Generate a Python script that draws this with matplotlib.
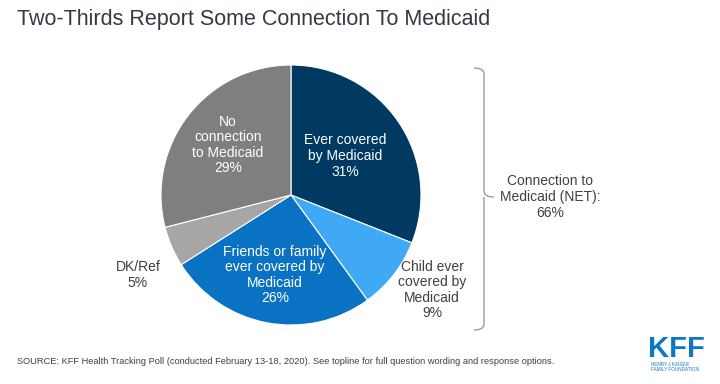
import matplotlib
matplotlib.use('Agg')
from matplotlib import pyplot as plt
from matplotlib.path import Path
from matplotlib.patches import PathPatch

plt.rcParams['font.family'] = ['Liberation Sans', 'DejaVu Sans']

# data
labels = ['Ever covered\nby Medicaid', 'Child ever\ncovered by\nMedicaid', 'Friends or family\never covered by\nMedicaid',
          'DK/Ref', 'No\nconnection\nto Medicaid']
shares = [31, 9, 26, 5, 29]
colors = ['#003A62', '#3FA9F5', '#0A72C2', '#A6A6A6', '#7F7F7F']
net_label = 'Connection to\nMedicaid (NET):'
net_value = 66

W, H = 720, 384
fig = plt.figure(figsize=(W / 100, H / 100), dpi=100)

# pie: centre (291, 195) px, radius 130 px
cx, cy, r = 291, 195, 130
pie_ax = fig.add_axes([(cx - r) / W, (H - cy - r) / H, 2 * r / W, 2 * r / H], zorder=1)
wedges, _ = pie_ax.pie(shares, colors=colors, startangle=90, counterclock=False, radius=1,
                       wedgeprops=dict(edgecolor='white', linewidth=0.8))
pie_ax.set_xlim(-1, 1)
pie_ax.set_ylim(-1, 1)
pie_ax.set_aspect('equal')
pie_ax.axis('off')

# overlay in pixel coords for text, brace and logo
ov = fig.add_axes([0, 0, 1, 1], zorder=5)
ov.set_xlim(0, W)
ov.set_ylim(H, 0)
ov.axis('off')

ov.text(17, 20, 'Two-Thirds Report Some Connection To Medicaid', fontsize=15.5,
        color='#333a45', va='center', ha='left')

lab_pos = [(345, 156, 'white'), (432, 290, '#404040'), (275, 275, 'white'),
           (138, 275, '#404040'), (228, 145, 'white')]
for lab, val, (x, y, c) in zip(labels, shares, lab_pos):
    ov.text(x, y, f'{lab}\n{val}%', ha='center', va='center', fontsize=10,
            color=c, linespacing=1.15, clip_on=False)

# right brace
top, bot, mid = 68, 330, 197
verts = [(474, top), (484, top), (484, top + 6),
         (484, mid - 6), (484, mid), (494, mid),
         (484, mid), (484, mid + 6),
         (484, bot - 6), (484, bot), (474, bot)]
codes = [Path.MOVETO, Path.CURVE3, Path.CURVE3,
         Path.LINETO, Path.CURVE3, Path.CURVE3,
         Path.MOVETO, Path.LINETO,
         Path.LINETO, Path.CURVE3, Path.CURVE3]
ov.add_patch(PathPatch(Path(verts, codes), fill=False, edgecolor='#9a9a9a', linewidth=1.0))
ov.text(550, 197, f'{net_label}\n{net_value}%', ha='center', va='center',
        fontsize=10, color='#404040', linespacing=1.15)

ov.text(17, 362, 'SOURCE: KFF Health Tracking Poll (conducted February 13-18, 2020). See topline for full question wording and response options.',
        fontsize=6.7, color='#404040', va='center', ha='left')

# logo
ov.text(676, 349, 'KFF', fontsize=21, fontweight='bold', color='#0C77C9',
        ha='center', va='center')
ov.text(651, 367, 'HENRY J KAISER\nFAMILY FOUNDATION', fontsize=3.3, color='#0C77C9',
        ha='left', va='center', linespacing=1.0)

fig.savefig('out.png', dpi=100, facecolor='white')
